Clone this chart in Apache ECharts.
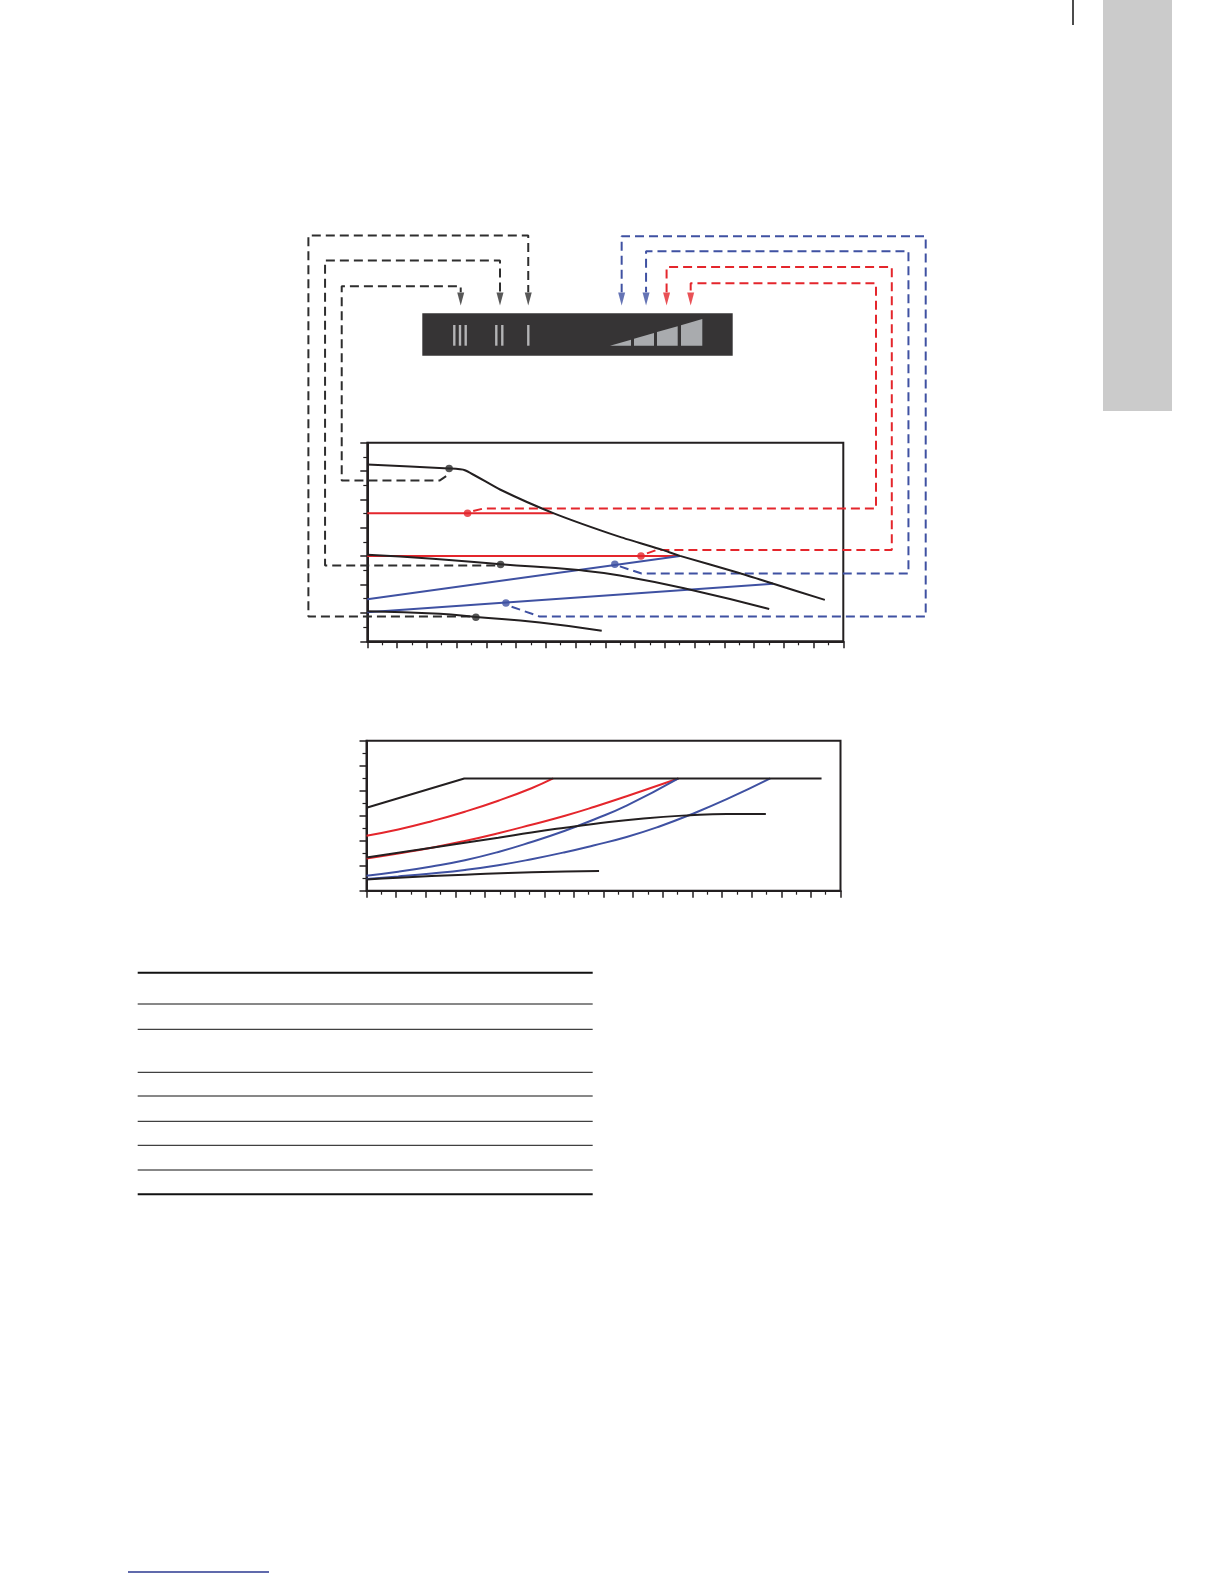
<!DOCTYPE html>
<html><head><meta charset="utf-8">
<script src="https://cdn.jsdelivr.net/npm/echarts@6/dist/echarts.min.js"></script>
<style>html,body{margin:0;padding:0;background:#fff}#c{width:1224px;height:1584px}</style>
</head><body><div id="c"></div>
<script>
// ---------- Top chart (head vs flow) ----------
const topMaxIII   = [[0,6.23],[2.75,6.09],[3.28,6.03],[4.46,5.35],[6.25,4.52],[8.49,3.68],[9.9,3.23],[10.51,3.01],[12.53,2.40],[13.65,2.03],[15.38,1.46]];
const topMidII    = [[0,3.05],[2.2,2.91],[4.48,2.72],[7.1,2.51],[8.49,2.32],[10.9,1.81],[13.51,1.14]];
const topMinI     = [[0,1.06],[2.44,0.97],[3.65,0.86],[5.8,0.66],[7.88,0.37]];
const topRedUpper = [[0,4.51],[6.25,4.51]];
const topRedLower = [[0,3.01],[10.51,3.01]];
const topBlueUpper= [[0,1.48],[10.51,3.01]];
const topBlueLower= [[0,1.02],[13.65,2.03]];
const dotsBlack   = [[2.75,6.09],[4.48,2.71],[3.65,0.85]];
const dotsRed     = [[3.37,4.51],[9.2,3.01]];
const dotsBlue    = [[8.32,2.72],[4.66,1.35]];

// connector routes (in top-chart flow/head units) and arrow heads
const connBlackI   = [[3.45,0.87],[-1.98,0.87],[-1.98,14.30],[5.41,14.30],[5.41,12.30]];
const connBlackII  = [[4.30,2.67],[-1.42,2.67],[-1.42,13.42],[4.46,13.42],[4.46,12.30]];
const connBlackIII = [[2.65,5.82],[2.44,5.67],[-0.86,5.67],[-0.86,12.51],[3.14,12.51],[3.14,12.30]];
const connRedUpper = [[3.56,4.59],[3.90,4.68],[17.10,4.68],[17.10,12.62],[10.87,12.62],[10.87,12.30]];
const connRedLower = [[9.40,3.10],[9.73,3.22],[17.63,3.22],[17.63,13.19],[10.06,13.19],[10.06,12.30]];
const connBlueUpper= [[8.49,2.64],[9.22,2.39],[18.19,2.39],[18.19,13.75],[9.37,13.75],[9.37,12.30]];
const connBlueLower= [[4.85,1.22],[5.80,0.87],[18.77,0.87],[18.77,14.28],[8.55,14.28],[8.55,12.30]];
const arrowsBlack  = [[3.14,12.06],[4.46,12.06],[5.41,12.06]];
const arrowsBlue   = [[8.55,12.06],[9.37,12.06]];
const arrowsRed    = [[10.06,12.06],[10.87,12.06]];

// ---------- Bottom chart (power vs flow) ----------
const botMaxIII   = [[0,3.32],[3.30,4.49],[15.36,4.49]];
const botMidII    = [[0,1.33],[1.07,1.52],[2.2,1.72],[3.32,1.92],[4.45,2.12],[5.57,2.33],[6.7,2.52],[7.66,2.67],[9.35,2.89],[10.93,3.02],[12.16,3.07],[13.48,3.07]];
const botMinI     = [[0,0.45],[1.07,0.52],[3.32,0.64],[5.57,0.74],[7.85,0.79]];
const botRedUpper = [[0,2.20],[1.07,2.45],[2.2,2.78],[3.32,3.16],[4.45,3.60],[5.57,4.10],[6.3,4.49]];
const botRedLower = [[0,1.29],[1.07,1.49],[2.2,1.72],[3.32,1.99],[4.45,2.30],[5.57,2.64],[6.7,3.00],[7.7,3.36],[8.78,3.78],[10.53,4.49]];
const botBlueUpper= [[0,0.60],[1.07,0.76],[2.2,0.97],[3.32,1.22],[4.45,1.55],[5.57,1.95],[6.7,2.40],[7.66,2.84],[8.78,3.40],[10.53,4.49]];
const botBlueLower= [[0,0.47],[1.07,0.57],[2.2,0.69],[3.32,0.83],[4.45,1.02],[5.57,1.26],[6.7,1.54],[7.66,1.81],[8.78,2.15],[9.91,2.58],[10.93,3.04],[12.16,3.66],[13.63,4.49]];

const xTicks = {min:0, max:16, interval:1};
const yTopTicks = {min:0, max:7, interval:1};
const yBotTicks = {min:0, max:6, interval:1};
const overlayX = {min:-2, max:19};
const overlayY = {min:0, max:15};

const INK='#231f20', RED='#e4262c', BLUE='#3f51a2', DASHK='#2e2e2e';

function axis(gi, t){
  return {gridIndex:gi, type:'value', min:t.min, max:t.max, interval:t.interval,
    axisLine:{show:true, onZero:false, lineStyle:{color:INK, width:2}},
    axisTick:{show:true, inside:false, length:7, lineStyle:{color:INK, width:1.5}},
    minorTick:{show:true, splitNumber:2, length:4, lineStyle:{color:INK, width:1.2}},
    axisLabel:{show:false}, splitLine:{show:false}, minorSplitLine:{show:false}};
}
function hiddenAxis(gi, r){
  return {gridIndex:gi, type:'value', min:r.min, max:r.max, show:false,
    axisLine:{show:false}, axisTick:{show:false}, axisLabel:{show:false}, splitLine:{show:false}};
}
function curve(gi, data, color, smooth){
  return {type:'line', xAxisIndex:gi, yAxisIndex:gi, data, smooth:smooth||false,
    symbol:'none', lineStyle:{color, width:2}, silent:true, z:3};
}
function conn(data, color){
  return {type:'line', xAxisIndex:2, yAxisIndex:2, data, symbol:'none',
    lineStyle:{color, width:2, type:[9,5]}, silent:true, z:2};
}
function dots(data, color){
  return {type:'scatter', xAxisIndex:0, yAxisIndex:0, data, symbol:'circle', symbolSize:7.5,
    itemStyle:{color}, silent:true, z:5};
}
function arrows(data, color){
  return {type:'scatter', xAxisIndex:2, yAxisIndex:2, data, symbol:'triangle',
    symbolRotate:180, symbolSize:[7,13], itemStyle:{color}, silent:true, z:4};
}

const panelBars = [454.3,460,465.7,496.3,502.3,528.3];
const graphics = [];
graphics.push({type:'rect', shape:{x:1103,y:0,width:69,height:411}, style:{fill:'#cbcbcb'}});
graphics.push({type:'line', shape:{x1:1073,y1:0,x2:1073,y2:25}, style:{stroke:'#111',lineWidth:1.5}});
graphics.push({type:'rect', shape:{x:422.3,y:313.3,width:310.4,height:42.4}, style:{fill:'#363435'}});
panelBars.forEach(x=>graphics.push({type:'rect', shape:{x:x-1.2,y:325,width:2.4,height:20.7}, style:{fill:'#b3b3b5'}}));
[[610,631],[634,654],[657,677.7],[681,702.3]].forEach(([a,b])=>{
  const yy=x=>345.7-0.289*(x-610);
  graphics.push({type:'polygon', shape:{points:[[a,345.7],[a,yy(a)],[b,yy(b)],[b,345.7]]}, style:{fill:'#a9abae'}});
});
[[972.7,2],[1004,1],[1029.3,1],[1072.3,1],[1096,1],[1121.3,1],[1145.3,1],[1170,1],[1194.3,2]].forEach(([y,w])=>{
  graphics.push({type:'line', shape:{x1:137.7,y1:y,x2:592.7,y2:y}, style:{stroke:'#111',lineWidth:w}});
});
graphics.push({type:'line', shape:{x1:128,y1:1572,x2:269,y2:1572}, style:{stroke:'#2b3990',lineWidth:1.3}});

const chart = echarts.init(document.getElementById('c'), null, {renderer:'canvas'});
chart.setOption({
  animation:false,
  backgroundColor:'#fff',
  grid:[
    {left:367.3, top:442.7, width:476, height:198.6, show:true, borderColor:INK, borderWidth:2, backgroundColor:'transparent'},
    {left:366.5, top:740.7, width:474, height:150, show:true, borderColor:INK, borderWidth:2, backgroundColor:'transparent'},
    {left:307.8, top:215.7, width:624.75, height:425.6, show:false}
  ],
  xAxis:[axis(0,xTicks), axis(1,xTicks), hiddenAxis(2,overlayX)],
  yAxis:[axis(0,yTopTicks), axis(1,yBotTicks), hiddenAxis(2,overlayY)],
  series:[
    conn(connBlackI, DASHK), conn(connBlackII, DASHK), conn(connBlackIII, DASHK),
    conn(connRedUpper, RED), conn(connRedLower, RED),
    conn(connBlueUpper, BLUE), conn(connBlueLower, BLUE),
    arrows(arrowsBlack, DASHK), arrows(arrowsBlue, BLUE), arrows(arrowsRed, RED),
    curve(0, topRedUpper, RED), curve(0, topRedLower, RED),
    curve(0, topBlueUpper, BLUE), curve(0, topBlueLower, BLUE),
    curve(0, topMaxIII, INK, 0.2), curve(0, topMidII, INK, true), curve(0, topMinI, INK, true),
    dots(dotsBlack, '#2b2b2b'), dots(dotsRed, RED), dots(dotsBlue, BLUE),
    curve(1, botRedUpper, RED, true), curve(1, botRedLower, RED, true),
    curve(1, botBlueUpper, BLUE, true), curve(1, botBlueLower, BLUE, true),
    curve(1, botMaxIII, INK), curve(1, botMidII, INK, true), curve(1, botMinI, INK, true)
  ],
  graphic: graphics
});
</script></body></html>
